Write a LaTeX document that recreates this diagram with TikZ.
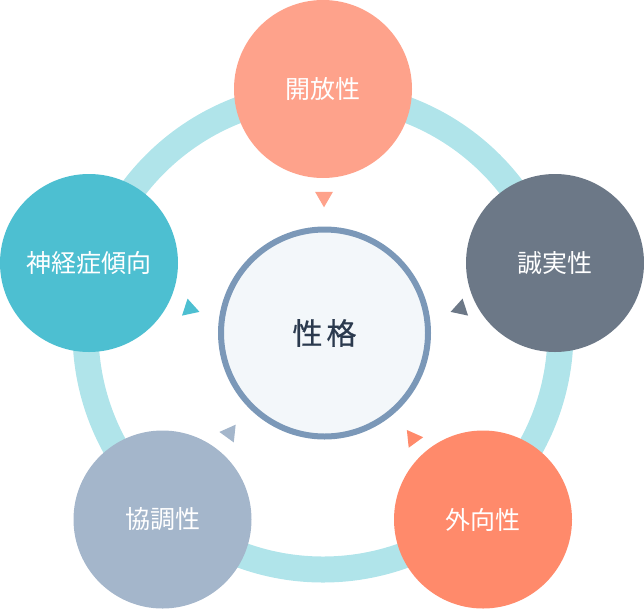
\documentclass[tikz,border=0pt]{standalone}
\usepackage{fontspec}
\setmainfont{Noto Sans CJK JP}
\newfontfamily\corefont[FakeBold=0.6]{Noto Sans CJK JP}
\usetikzlibrary{shapes.geometric}
\definecolor{cOpen}{HTML}{FEA28B}
\definecolor{cCons}{HTML}{6C7887}
\definecolor{cExtra}{HTML}{FF8A6B}
\definecolor{cAgree}{HTML}{A4B6CB}
\definecolor{cNeuro}{HTML}{4DBFD1}
\definecolor{cRing}{HTML}{B0E4EA}
\definecolor{cCoreLine}{HTML}{7B98B8}
\definecolor{cCoreFill}{HTML}{F3F7FA}
\definecolor{cCoreText}{HTML}{2B3A4E}
\tikzset{
  trait/.style={circle, draw=none, inner sep=0pt, outer sep=0pt, minimum size=178pt,
    text=white, font=\fontsize{25}{29}\selectfont},
  core/.style={circle, draw=cCoreLine, fill=cCoreFill, line width=6pt, inner sep=0pt,
    minimum size=207pt, text=cCoreText, font=\corefont\fontsize{30}{34}\selectfont},
  tri/.style={regular polygon, regular polygon sides=3, draw=none, inner sep=0pt,
    outer sep=0pt, minimum size=20.6pt},
  ringline/.style={draw=cRing, line width=26pt}
}
\begin{document}
\begin{tikzpicture}[x=1pt, y=-1pt]
\useasboundingbox (0,0) rectangle (644,608);
\draw[ringline] (323,332) circle[radius=237.5];
\node[core] (core) at (324.5,333) {性\hspace{4pt}格};
\node[trait, fill=cOpen]  (open)  at (323,89)    {開放性};
\node[trait, fill=cCons]  (cons)  at (555,263)   {誠実性};
\node[trait, fill=cNeuro] (neuro) at (89,263)    {神経症傾向};
\node[trait, fill=cAgree] (agree) at (162.5,519.5) {協調性};
\node[trait, fill=cExtra] (extra) at (483,519.5) {外向性};
\node[tri, fill=cOpen,  rotate=180]  (t1) at (324,197) {};
\node[tri, fill=cCons,  rotate=108]  (t2) at (460.4,308.7) {};
\node[tri, fill=cExtra, rotate=36]   (t3) at (412.9,438.3) {};
\node[tri, fill=cAgree, rotate=-36]  (t4) at (229.6,433) {};
\node[tri, fill=cNeuro, rotate=-108] (t5) at (189.7,308.7) {};
\end{tikzpicture}
\end{document}
